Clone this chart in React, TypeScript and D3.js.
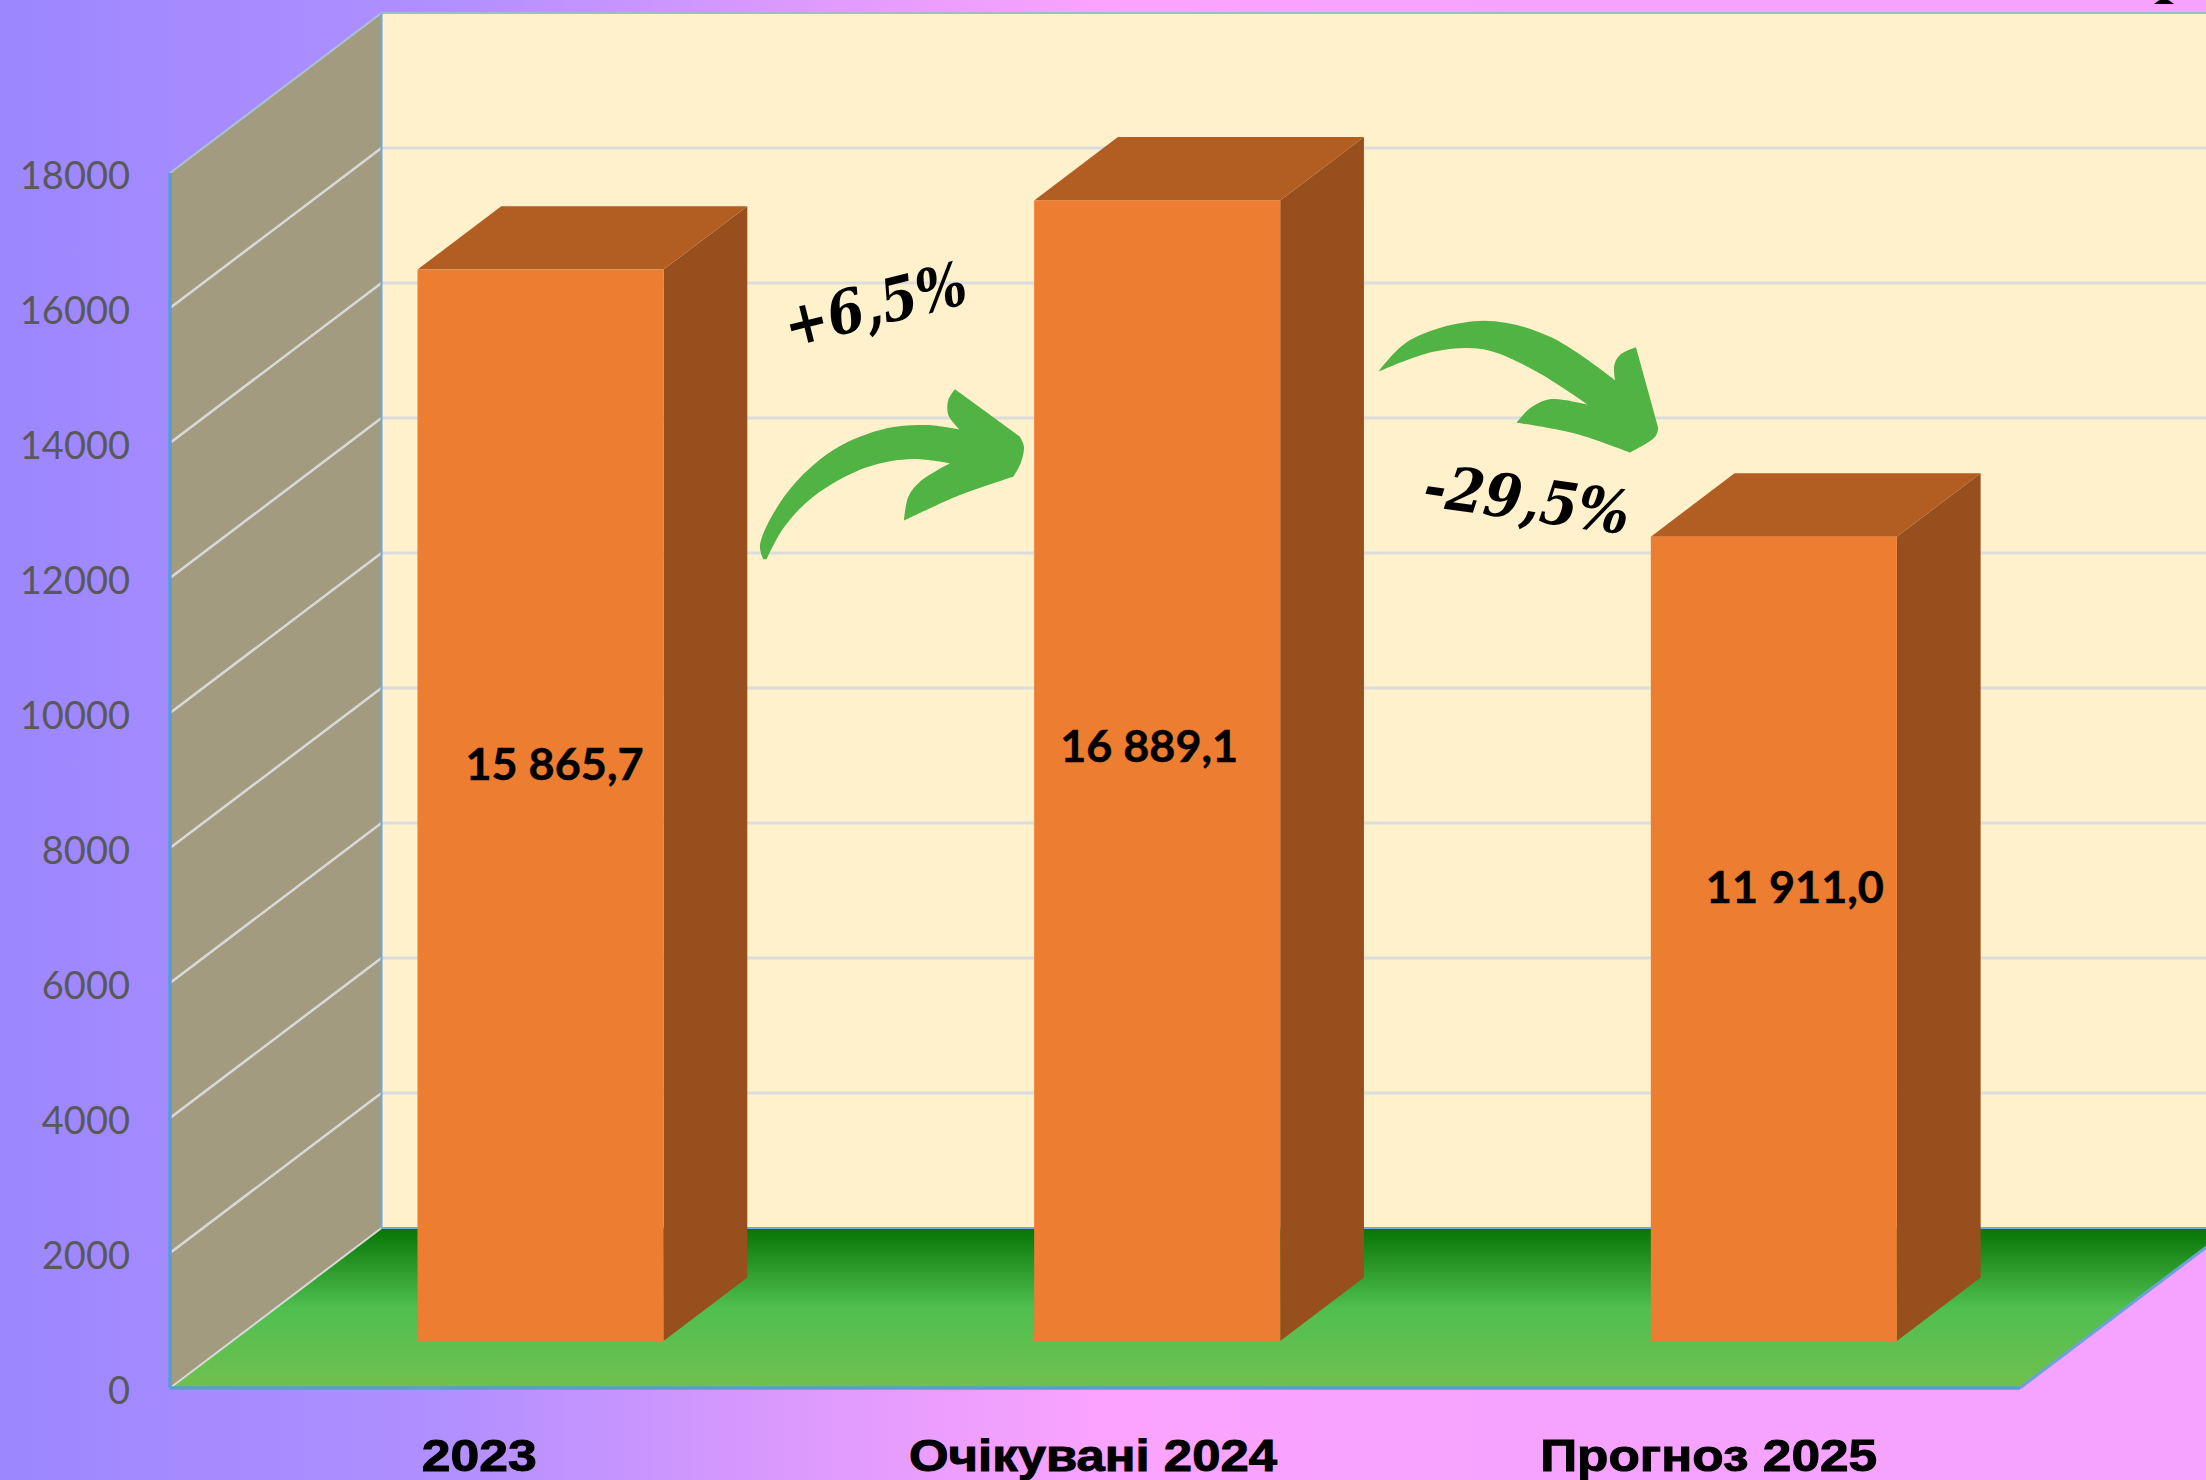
import React from "react";
import * as d3 from "d3";

const categories = ["2023", "Очікувані 2024", "Прогноз 2025"];
const values = [15865.7, 16889.1, 11911.0];
const valueLabels = ["15 865,7", "16 889,1", "11 911,0"];
const yTicks = [0, 2000, 4000, 6000, 8000, 10000, 12000, 14000, 16000, 18000];

const W = 2206, H = 1480;
const X0 = 170, X1 = 2020, Y0 = 1388, Y1 = 173;
const DX = 211.5, DY = 160;
const F_FRONT = 0.294, F_BACK = 0.69;
const BAR_FRAC = 0.399;
const labelDx = [14, -8, 21];
const labelY = [765, 747, 888];
const catLabelW = [115, 368, 337];
const catLabelDx = [1, -2, -3];

const y = d3.scaleLinear().domain([0, 18000]).range([Y0, Y1 - 0.5]);
const yAxisScale = d3.scaleLinear().domain([0, 18000]).range([Y0, Y1]);
const x = d3.scaleBand<string>().domain(categories).range([X0, X1]);

const poly = (pts: [number, number][]) => d3.line()(pts) + "Z";
type Pt = [number, number];
const smooth = d3.line().curve(d3.curveCatmullRom.alpha(0.5));
const outline = (segs: Pt[][]) =>
  segs.map((s, i) => { const d = smooth(s) as string; return i === 0 ? d : "L" + d.slice(1); }).join("") + "Z";

const arrowUpOutline: Pt[][] = [
  [[190, 958], [180, 915], [260, 760], [400, 630], [560, 565], [680, 555], [778, 568]],
  [[778, 568], [745, 525], [745, 480], [765, 448]],
  [[765, 448], [960, 590]],
  [[960, 590], [972, 620], [962, 670], [940, 710]],
  [[940, 710], [780, 765], [612, 842]],
  [[612, 842], [625, 770], [660, 725], [750, 670]],
  [[750, 670], [640, 657], [500, 682], [340, 770], [250, 865], [200, 958]],
];
const arrowDownOutline: Pt[][] = [
  [[85, 245], [180, 150], [400, 92], [600, 140], [795, 270]],
  [[795, 270], [793, 225], [810, 195], [858, 172]],
  [[858, 172], [925, 415]],
  [[925, 415], [918, 437], [890, 460], [840, 488]],
  [[840, 488], [680, 432], [500, 398]],
  [[500, 398], [540, 355], [600, 328], [715, 345]],
  [[715, 345], [560, 245], [400, 178], [250, 185], [85, 245]],
];

export default function App() {
  const bw = x.bandwidth();
  const barW = bw * BAR_FRAC;
  return (
    <svg width={W} height={H} viewBox={`0 0 ${W} ${H}`}
      style={{ position: "absolute", left: 0, top: 0, display: "block" }}>
      <defs>
        <linearGradient id="bg" x1="0" x2="1" y1="0" y2="0">
          <stop offset="0" stopColor="#9c87ff" />
          <stop offset="0.2" stopColor="#b08fff" />
          <stop offset="0.36" stopColor="#dc9afd" />
          <stop offset="0.5" stopColor="#fba3ff" />
          <stop offset="0.72" stopColor="#f5a3ff" />
          <stop offset="1" stopColor="#f5a3ff" />
        </linearGradient>
        <linearGradient id="floor" x1="0" x2="0" y1="0" y2="1">
          <stop offset="0" stopColor="#067506" />
          <stop offset="0.5" stopColor="#4fbf50" />
          <stop offset="1" stopColor="#70c04e" />
        </linearGradient>
      </defs>
      <rect width={W} height={H} fill="url(#bg)" />

      {/* back wall */}
      <rect x={X0 + DX} y={Y1 - DY} width={W} height={Y0 - Y1} fill="#fff1cc" />
      {yTicks.slice(1).map((t) => (
        <line key={t} x1={X0 + DX} x2={W} y1={yAxisScale(t) - DY} y2={yAxisScale(t) - DY}
          stroke={t === 18000 ? "#9fb9d8" : "#dcdcdc"} strokeWidth={t === 18000 ? 2 : 3} />
      ))}

      {/* side wall */}
      <path d={poly([[X0, Y0], [X0, Y1], [X0 + DX, Y1 - DY], [X0 + DX, Y0 - DY]])} fill="#a39b80" />
      {yTicks.slice(1, -1).map((t) => (
        <line key={t} x1={X0} x2={X0 + DX} y1={yAxisScale(t)} y2={yAxisScale(t) - DY} stroke="#d9d9d9" strokeWidth={2.5} />
      ))}
      <line x1={X0} y1={Y1} x2={X0 + DX} y2={Y1 - DY} stroke="#a9c4cf" strokeWidth={2} />
      <line x1={X0 + DX} y1={Y1 - DY} x2={X0 + DX} y2={Y0 - DY} stroke="#6fa8dc" strokeWidth={2} />

      {/* floor */}
      <path d={poly([[X0, Y0], [X1, Y0], [X1 + DX, Y0 - DY], [X0 + DX, Y0 - DY]])} fill="url(#floor)" />
      <line x1={X0} y1={Y0} x2={X0 + DX} y2={Y0 - DY} stroke="#d9d9d9" strokeWidth={2} />
      <line x1={X0 + DX} x2={W} y1={Y0 - DY} y2={Y0 - DY} stroke="#6fa8dc" strokeWidth={2} />
      <line x1={X1} y1={Y0} x2={X1 + DX} y2={Y0 - DY} stroke="#6fa0dc" strokeWidth={3} />
      <line x1={X0} y1={Y0} x2={X1} y2={Y0} stroke="#5b9bd5" strokeWidth={3.5} />
      <line x1={X0} y1={Y0} x2={X0} y2={Y1} stroke="#5b9bd5" strokeWidth={3.5} />

      {/* bars */}
      {categories.map((c, i) => {
        const fx = x(c)! + (bw - barW) / 2 + DX * F_FRONT;
        const bx = fx + barW;
        const h = Y0 - y(values[i]);
        const base = Y0 - DY * F_FRONT;
        const top = base - h;
        const ddx = DX * (F_BACK - F_FRONT), ddy = DY * (F_BACK - F_FRONT);
        return (
          <g key={c}>
            <path d={poly([[bx, base], [bx, top], [bx + ddx, top - ddy], [bx + ddx, base - ddy]])} fill="#974f1d" />
            <path d={poly([[fx, top], [bx, top], [bx + ddx, top - ddy], [fx + ddx, top - ddy]])} fill="#b25d22" />
            <rect x={fx} y={top} width={barW} height={h} fill="#ed7d31" />
            <text x={fx + barW / 2 + labelDx[i]} y={labelY[i]} dy="0.35em" textAnchor="middle"
              fontFamily="Lato, sans-serif" fontWeight={700} fontSize={43}
              stroke="#000" strokeWidth={0.5}
              textLength={178} lengthAdjust="spacingAndGlyphs" fill="#000">{valueLabels[i]}</text>
          </g>
        );
      })}

      {/* y tick labels */}
      {yTicks.map((t) => (
        <text key={t} x={130} y={yAxisScale(t) + 2.5} dy="0.36em" textAnchor="end"
          fontFamily="Lato, sans-serif" fontSize={38} fill="#595959">{t}</text>
      ))}

      {/* category labels */}
      {categories.map((c, i) => (
        <text key={c} x={x(c)! + bw / 2 + catLabelDx[i]} y={1471} textAnchor="middle"
          fontFamily="'Liberation Sans', sans-serif" fontWeight={700} fontSize={45}
          stroke="#000" strokeWidth={1} textLength={catLabelW[i]} lengthAdjust="spacingAndGlyphs"
          fill="#000">{c}</text>
      ))}

      {/* change arrows and annotations */}
      <path d={outline(arrowUpOutline)} transform="translate(700,240) scale(0.3333)" fill="#52b345" />
      <path d={outline(arrowDownOutline)} transform="translate(1350,290) scale(0.3333)" fill="#52b345" />
      <text transform="translate(880,325) rotate(-14)" textAnchor="middle"
        fontFamily="'DejaVu Serif', serif" fontWeight={700} fontStyle="italic" fontSize={60}
        textLength={186} lengthAdjust="spacingAndGlyphs" fill="#000">+6,5%</text>
      <text transform="translate(1524,520) rotate(8)" textAnchor="middle"
        fontFamily="'DejaVu Serif', serif" fontWeight={700} fontStyle="italic" fontSize={60}
        textLength={207} lengthAdjust="spacingAndGlyphs" fill="#000">-29,5%</text>

      {/* clipped glyph at the top edge */}
      <path d={poly([[2154, 4], [2174, 4], [2170, 1], [2168, 0], [2160, 0], [2158, 1]])} fill="#000" />
    </svg>
  );
}
